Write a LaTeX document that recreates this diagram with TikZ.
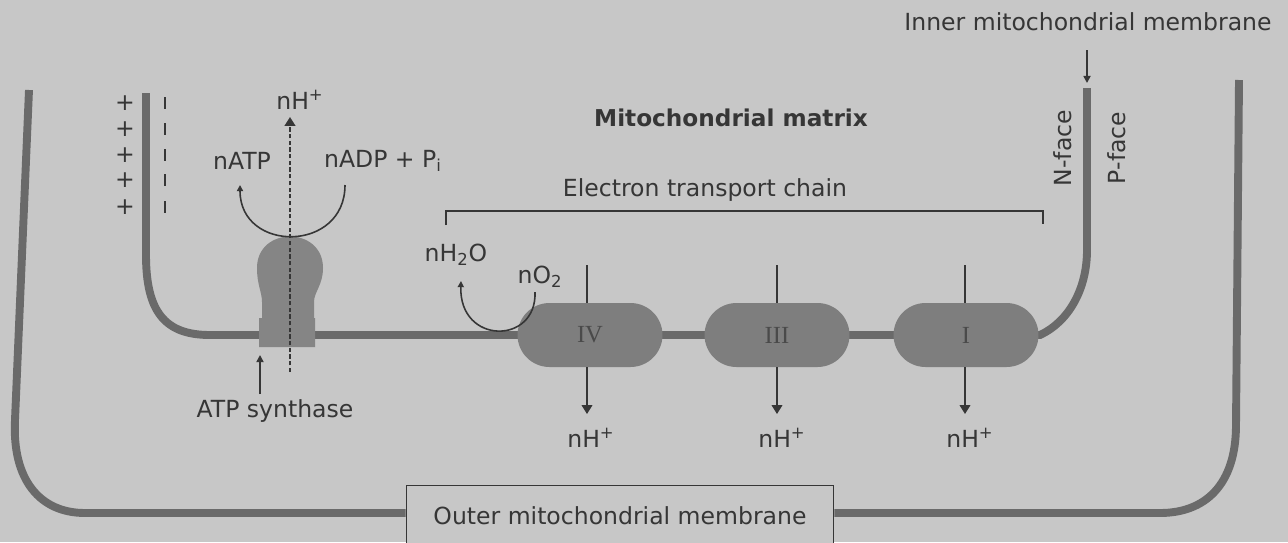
\documentclass[tikz,border=0pt]{standalone}
\usepackage{fontspec}
\setmainfont{DejaVu Sans}
\newfontfamily\romfont{Liberation Serif}
\usetikzlibrary{arrows.meta}
\definecolor{bg}{HTML}{C7C7C7}
\definecolor{mem}{HTML}{6A6A6A}
\definecolor{cpx}{HTML}{7E7E7E}
\definecolor{atpc}{HTML}{858585}
\definecolor{ink}{HTML}{363636}
\begin{document}
\begin{tikzpicture}[x=0.02cm,y=-0.02cm,
  font=\fontsize{13.4}{16}\selectfont,
  membrane/.style={draw=mem, line width=4.5pt},
  lbl/.style={text=ink, inner sep=0pt},
  cplx/.style={fill=cpx, rounded corners=0.64cm, minimum width=2.9cm, minimum height=1.28cm, inner sep=0pt, font=\romfont\fontsize{14}{15}\selectfont, text=ink!90},
  thinline/.style={draw=ink, line width=0.9pt},
  harrow/.style={thinline, -{Triangle[length=5pt,width=6pt]}},
  smallarrow/.style={thinline, -{Triangle[length=3.5pt,width=3.5pt]}},
  dasharrow/.style={draw=ink, line width=1.1pt, dash pattern=on 2.4pt off 1.4pt, -{Triangle[length=5pt,width=6pt]}}
]
\useasboundingbox (0,0) rectangle (1288,542);
\fill[bg] (0,0) rectangle (1288,542);
\begin{scope}
\clip (0,0) rectangle (1288,542);

% outer membrane label box
\node[draw=ink, line width=0.6pt, fill=bg, minimum width=8.56cm, minimum height=1.3cm, anchor=north, inner sep=0pt] (omm) at (620,485) {};
\node[lbl] (omt) at (620,516) {Outer mitochondrial membrane};

% outer membrane
\draw[membrane] (omm.west |- 0,513) -- (85,513) .. controls (40,513) and (12,480) .. (15,420) -- (29,90);
\draw[membrane] (omm.east |- 0,513) -- (1160,513) .. controls (1205,513) and (1236,485) .. (1236,425) -- (1239,80);

% inner membrane
\draw[membrane] (146,93) -- (146,255) .. controls (146,312) and (165,335) .. (210,335) -- (1040,335) .. controls (1068,322) and (1087,290) .. (1087,250) -- (1087,88);

% ATP synthase
\fill[atpc] (259,347) -- (259,318) -- (262,318) -- (262,302)
  .. controls (262,292) and (257,285) .. (257,268)
  .. controls (257,226) and (323,226) .. (323,268)
  .. controls (323,285) and (314,292) .. (314,302)
  -- (314,318) -- (315,318) -- (315,347) -- cycle;

% complexes
\node[cplx] (c4) at (590,335) {IV};
\node[cplx] (c3) at (777,335) {III};
\node[cplx] (c1) at (966,335) {I};

% labels
\node[lbl] (nh) at (300,100) {nH\textsuperscript{+}};
\node[lbl] (natp) at (242,161) {nATP};
\node[lbl] (nadp) at (383,161) {nADP + P\textsubscript{i}};
\node[lbl] (atps) at (275,411) {ATP synthase};
\node[lbl, font=\bfseries\fontsize{13.2}{15}\selectfont] (mm) at (731,118) {Mitochondrial matrix};
\node[lbl] (etc) at (705,190) {Electron transport chain};
\node[lbl] (nh2o) at (456,255) {nH\textsubscript{2}O};
\node[lbl] (no2) at (540,277) {nO\textsubscript{2}};
\node[lbl] (imm) at (1088,22) {Inner mitochondrial membrane};
\node[lbl, rotate=90] (nf) at (1063,148) {N-face};
\node[lbl, rotate=90] (pf) at (1117,148) {P-face};
\node[lbl] (h4) at (591,438) {nH\textsuperscript{+}};
\node[lbl] (h3) at (782,438) {nH\textsuperscript{+}};
\node[lbl] (h1) at (970,438) {nH\textsuperscript{+}};

% charges
\foreach \yy in {103,129,155,180,207} {
  \node[lbl] (p\yy) at (125,\yy) {+};
  \draw[draw=ink, line width=0.8pt] (165,\yy-6) -- (165,\yy+6);
}

% ATP synthase arrows
\coordinate (dbot) at (290,372);
\coordinate (dtop) at (290,117);
\draw[dasharrow] (dbot) -- (dtop);
\coordinate (arcR) at (345,185);
\coordinate (arcL) at (240,185);
\draw[smallarrow] (arcR) .. controls (345,253) and (240,253) .. (arcL);
\coordinate (sa) at (260,394);
\coordinate (sb) at (260,355);
\draw[thinline, -{Triangle[length=4pt,width=4pt]}] (sa) -- (sb);

% O2 -> H2O
\coordinate (o2a) at (535,292);
\coordinate (o2b) at (461,281);
\draw[smallarrow] (o2a) .. controls (537,345) and (459,345) .. (o2b);

% electron transport chain bracket
\coordinate (bl) at (446,225);
\coordinate (br) at (1043,224);
\draw[draw=ink, line width=0.7pt] (bl) -- (446,211) -- (1043,211) -- (br);

% complex proton lines
\foreach \c/\xx/\h in {c4/587/h4, c3/777/h3, c1/965/h1} {
  \coordinate (t\c) at (\xx,265);
  \coordinate (b\c) at (\xx,414);
  \draw[thinline] (t\c) -- (t\c |- \c.north);
  \draw[harrow] (t\c |- \c.south) -- (b\c);
}

% inner membrane pointer
\coordinate (ia) at (1087,50);
\coordinate (ib) at (1087,83);
\draw[thinline, -{Triangle[length=4pt,width=4pt]}] (ia) -- (ib);
\end{scope}
\end{tikzpicture}
\end{document}
